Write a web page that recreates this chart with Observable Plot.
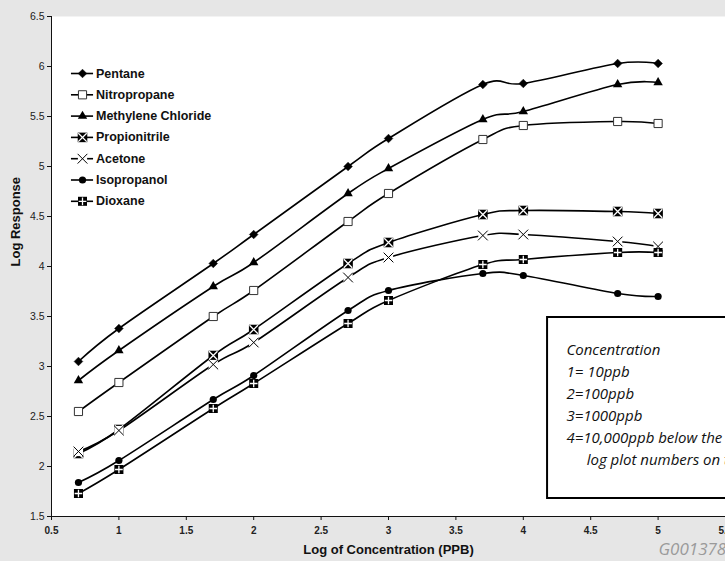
<!DOCTYPE html>
<html><head><meta charset="utf-8">
<script src="https://cdn.jsdelivr.net/npm/d3@7"></script>
<script src="https://cdn.jsdelivr.net/npm/@observablehq/plot@0.6"></script>
<style>
html,body{margin:0;padding:0;background:#e6e6e6;}
#chart{width:725px;height:561px;overflow:hidden;}
#chart svg{display:block;overflow:hidden;}
</style></head><body><div id="chart"></div>
<script>
// Data (log10 of concentration in ppb vs log response)
const logConc = [0.7, 1, 1.7, 2, 2.7, 3, 3.7, 4, 4.7, 5];
const seriesNames = ["Pentane", "Nitropropane", "Methylene Chloride", "Propionitrile", "Acetone", "Isopropanol", "Dioxane"];
const pentane       = [3.05, 3.38, 4.03, 4.32, 5.00, 5.28, 5.82, 5.83, 6.03, 6.03];
const nitropropane  = [2.55, 2.84, 3.50, 3.76, 4.45, 4.73, 5.27, 5.41, 5.45, 5.43];
const methylene     = [2.86, 3.16, 3.80, 4.04, 4.73, 4.98, 5.47, 5.55, 5.82, 5.84];
const propionitrile = [2.13, 2.37, 3.11, 3.37, 4.03, 4.24, 4.52, 4.56, 4.55, 4.53];
const acetone       = [2.15, 2.36, 3.02, 3.24, 3.89, 4.09, 4.31, 4.32, 4.25, 4.20];
const isopropanol   = [1.84, 2.06, 2.67, 2.91, 3.56, 3.76, 3.93, 3.91, 3.73, 3.70];
const dioxane       = [1.73, 1.97, 2.58, 2.83, 3.43, 3.66, 4.02, 4.07, 4.14, 4.14];
const xTicks = [0.5, 1, 1.5, 2, 2.5, 3, 3.5, 4, 4.5, 5, 5.5];
const yTicks = [1.5, 2, 2.5, 3, 3.5, 4, 4.5, 5, 5.5, 6, 6.5];
const noteLines = ["Concentration", "1= 10ppb", "2=100ppb", "3=1000ppb", "4=10,000ppb below the", "log plot numbers on the"];
const xTitle = "Log of Concentration (PPB)";
const yTitle = "Log Response";
const figureId = "G001378";

const valuesBySeries = [pentane, nitropropane, methylene, propionitrile, acetone, isopropanol, dioxane];
const rows = seriesNames.flatMap((s, k) => logConc.map((x, i) => ({series: s, x, y: valuesBySeries[k][i]})));
const legendRows = seriesNames.map((s, i) => ({series: s, y: 5.93 - i * 0.213}));

const markerStyles = {
  "Pentane": [{symbol: "diamond2", fill: "black", stroke: "black", strokeWidth: 0.5, r: 3.9}],
  "Nitropropane": [{symbol: "square", fill: "white", stroke: "#333", strokeWidth: 1, r: 4.6}],
  "Methylene Chloride": [{symbol: "triangle", fill: "black", stroke: "none", r: 3.5}],
  "Propionitrile": [{symbol: "square", fill: "black", stroke: "none", r: 5.4}, {symbol: "times", fill: "none", stroke: "white", strokeWidth: 1.3, r: 3.9}],
  "Acetone": [{symbol: "square", fill: "white", stroke: "none", r: 5.2}, {symbol: "times", fill: "none", stroke: "black", strokeWidth: 1, r: 4.5}],
  "Isopropanol": [{symbol: "circle", fill: "black", stroke: "none", r: 3.6}],
  "Dioxane": [{symbol: "square", fill: "black", stroke: "none", r: 5.1}, {symbol: "plus", fill: "none", stroke: "white", strokeWidth: 1.3, r: 2.6}]
};

const marks = [
  Plot.frame({fill: "white", stroke: "none"}),
  Plot.ruleX([0.5], {stroke: "#111", strokeWidth: 1}),
  Plot.ruleY([1.5], {stroke: "#111", strokeWidth: 1}),
  Plot.axisY({ticks: yTicks, tickFormat: d => String(d), tickSize: 4, tickPadding: 3, fontSize: 10.5, fill: "#222", stroke: "#111", label: null}),
  Plot.axisX({ticks: xTicks, tickFormat: d => String(d), tickSize: 4, tickPadding: 6, fontSize: 10, fontWeight: "bold", fontFamily: "'Liberation Sans Narrow', 'Arial Narrow', sans-serif", fill: "#222", stroke: "#111", label: null}),
  Plot.text([yTitle], {frameAnchor: "left", dx: -36, rotate: -90, fontSize: 13, fontWeight: "bold", fill: "#111"}),
  Plot.text([xTitle], {frameAnchor: "bottom", dy: 37, fontSize: 13, fontWeight: "bold", fill: "#111"}),
  Plot.text([figureId], {frameAnchor: "bottom-left", dx: 607, dy: 38, textAnchor: "start", fontSize: 17, fontStyle: "italic", fontFamily: "'Open Sans', sans-serif", fill: "#9a9a9a"})
];

// Series lines + markers, in Excel draw order
for (const s of seriesNames) {
  const sub = rows.filter(r => r.series === s);
  marks.push(Plot.line(sub, {x: "x", y: "y", curve: "cardinal", stroke: "black", strokeWidth: 1.6}));
  for (const st of markerStyles[s]) marks.push(Plot.dot(sub, {x: "x", y: "y", ...st}));
}

// Legend
marks.push(Plot.ruleY(legendRows, {y: "y", x1: 0.648, x2: 0.812, stroke: "black", strokeWidth: 1.6}));
for (const s of seriesNames) {
  const lr = legendRows.filter(r => r.series === s);
  for (const st of markerStyles[s]) marks.push(Plot.dot(lr, {x: 0.73, y: "y", ...st}));
}
marks.push(Plot.text(legendRows, {x: 0.83, y: "y", text: "series", textAnchor: "start", fontSize: 12.5, fontWeight: "bold", fill: "#111", fontFamily: "'Liberation Sans', Arial, sans-serif"}));

// Concentration note box
marks.push(Plot.rect([0], {x1: 4.18, x2: 5.62, y1: 1.68, y2: 3.49, fill: "white", stroke: "black", strokeWidth: 2}));
marks.push(Plot.text(noteLines, {x: (d, i) => i === 5 ? 4.47 : 4.32, y: (d, i) => 3.16 - i * 0.22, text: d => d, textAnchor: "start", fontSize: 15, letterSpacing: "0.5px", fontStyle: "italic", fontFamily: "'Open Sans', sans-serif", fill: "#111"}));

const chart = Plot.plot({
  width: 725,
  height: 561,
  marginLeft: 51,
  marginRight: 0,
  marginTop: 16,
  marginBottom: 45,
  style: {background: "#e6e6e6", fontFamily: "'Liberation Sans', Arial, sans-serif"},
  x: {domain: [0.5, 5.5]},
  y: {domain: [1.5, 6.5]},
  marks
});
document.getElementById("chart").appendChild(chart);
</script>
</body></html>
